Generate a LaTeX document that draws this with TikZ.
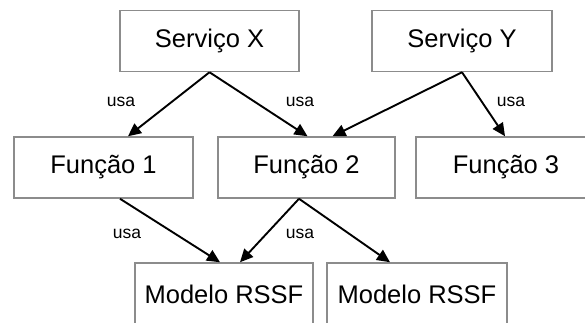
\documentclass[tikz,border=0pt]{standalone}
\usepackage{fontspec}
\setmainfont{Liberation Sans}
\usetikzlibrary{arrows.meta}
\begin{document}
\begin{tikzpicture}[x=1pt,y=-1pt,
  box/.style={draw=black!45, line width=1.5pt, fill=white, inner sep=0pt,
    minimum height=61pt, font=\fontsize{25.5}{30}\selectfont},
  uses/.style={draw=black, line width=1.9pt, -{Triangle[length=13pt,width=12pt]}},
  lbl/.style={font=\fontsize{17.5}{20}\selectfont, inner sep=0pt}]
\useasboundingbox (0,0) rectangle (585,323);
\clip (0,0) rectangle (585,323);
\fill[white] (0,0) rectangle (585,323);

% services
\node[box, minimum width=179pt] (sx) at (209.5,41) {Serviço X};
\node[box, minimum width=180pt] (sy) at (462,41) {Serviço Y};

% functions
\node[box, minimum width=179pt] (f1) at (103.5,167.5) {Função 1};
\node[box, minimum width=177pt] (f2) at (306.5,167.5) {Função 2};
\node[box, minimum width=180pt] (f3) at (506,167.5) {Função 3};

% models
\node[box, minimum width=178pt, minimum height=62pt] (m1) at (224,294) {Modelo RSSF};
\node[box, minimum width=180pt, minimum height=62pt] (m2) at (417,294) {Modelo RSSF};

% usage arrows
\draw[uses] (sx.south) -- ([xshift=24.5pt]f1.north);
\draw[uses] (sx.south) -- ([xshift=1pt]f2.north);
\draw[uses] (sy.south) -- ([xshift=26pt]f2.north);
\draw[uses] (sy.south) -- ([xshift=-1pt]f3.north);
\draw[uses] ([xshift=16.5pt]f1.south) -- ([xshift=-4pt]m1.north);
\draw[uses] ([xshift=-7.5pt]f2.south) -- ([xshift=16pt]m1.north);
\draw[uses] ([xshift=-7.5pt]f2.south) -- ([xshift=-27pt]m2.north);

% labels
\node[lbl] (u1) at (121,102) {usa};
\node[lbl] (u2) at (300,102) {usa};
\node[lbl] (u3) at (511,102) {usa};
\node[lbl] (u4) at (127,234) {usa};
\node[lbl] (u5) at (300,234) {usa};
\end{tikzpicture}
\end{document}
